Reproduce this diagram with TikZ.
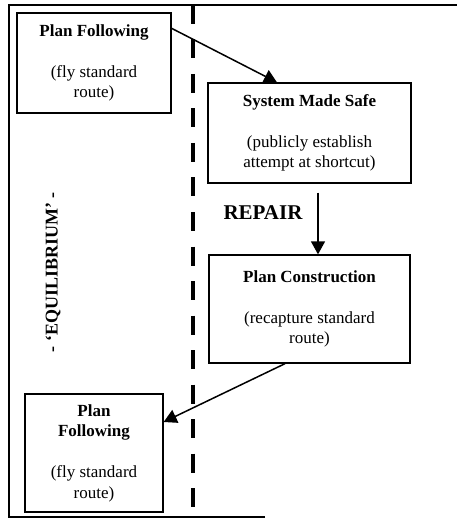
\documentclass[tikz,border=0pt]{standalone}
\usepackage{fontspec}
\setmainfont{Liberation Serif}
\usetikzlibrary{arrows.meta}

\tikzset{
  stagebox/.style={draw, line width=1.3pt, align=center, inner sep=0pt,
    font=\fontsize{17}{20.5}\selectfont},
  flow/.style={line width=1.5pt, -{Triangle[length=13pt,width=14pt]}},
  divider/.style={line width=4.5pt, dash pattern=on 19pt off 15.5pt},
  frame/.style={line width=1.5pt}
}

\begin{document}
\begin{tikzpicture}[x=1pt,y=-1pt]
  \useasboundingbox (0,0) rectangle (457,521);
  \fill[white] (0,0) rectangle (457,521);

  % outer frame (left, top and bottom edges)
  \draw[frame] (265,517) -- (9,517) -- (9,5) -- (457,5);

  % equilibrium / repair divider
  \draw[divider] (193,5) -- (193,507);

  % stages
  \node[stagebox, minimum width=154pt, minimum height=100pt] (b1) at (94,63)
    {\textbf{Plan Following}\\[20.5pt](fly standard\\route)};
  \node[stagebox, minimum width=203pt, minimum height=100pt] (b2) at (309.5,133)
    {\textbf{System Made Safe}\\[20.5pt](publicly establish\\attempt at shortcut)};
  \node[stagebox, minimum width=201pt, minimum height=108pt] (b3) at (309.5,309)
    {\textbf{Plan Construction}\\[20.5pt](recapture standard\\route)};
  \node[stagebox, minimum width=138pt, minimum height=118pt] (b4) at (94,453)
    {\textbf{Plan}\\\textbf{Following}\\[20.5pt](fly standard\\route)};

  % labels
  \node[font=\fontsize{21}{24}\selectfont\bfseries] (repair) at (263,213) {REPAIR};
  \node[font=\fontsize{18}{21}\selectfont\bfseries, rotate=90] (equil) at (53,272)
    {- ‘EQUILIBRIUM’ -};

  % transitions
  \draw[flow] ([yshift=-16pt]b1.north east) -- ([xshift=-32.5pt]b2.north);
  \draw[flow] ([xshift=8.5pt,yshift=-9pt]b2.south) -- ([xshift=8.5pt]b3.north);
  \draw[flow] ([xshift=-24.5pt]b3.south) -- ([yshift=31pt]b4.east);
\end{tikzpicture}
\end{document}
